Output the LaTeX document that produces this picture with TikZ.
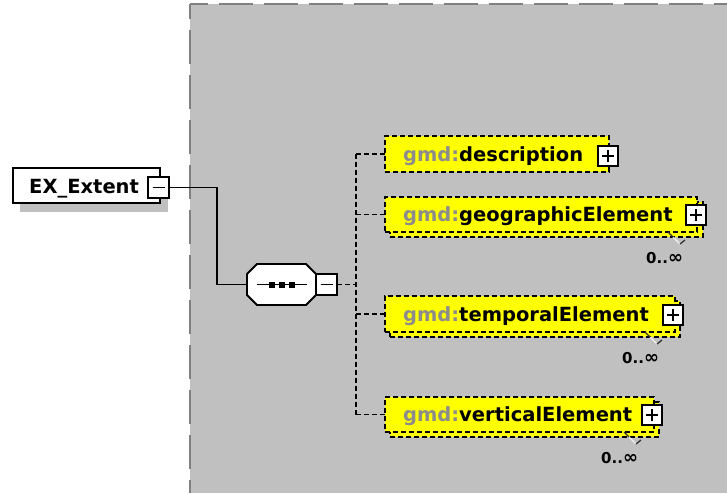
\documentclass[tikz,border=0pt]{standalone}
\usepackage{fontspec}
\setmainfont{DejaVu Sans}
\definecolor{bggray}{RGB}{192,192,192}
\definecolor{bgborder}{RGB}{128,128,128}
\definecolor{gmdgray}{RGB}{140,140,140}
\definecolor{elemyellow}{RGB}{255,255,0}
\begin{document}
\begin{tikzpicture}[x=1pt,y=-1pt,
  font=\fontsize{19.5}{23}\selectfont\bfseries,
  elembox/.style={draw=black, fill=elemyellow, line width=1.8pt, dash pattern=on 5pt off 3pt,
    anchor=north west, inner sep=0pt, outer sep=0pt},
  signbox/.style={draw=black, fill=white, line width=1.8pt, minimum size=20pt, inner sep=0pt,
    outer sep=0pt, anchor=north west},
  conn/.style={line width=1.8pt, dash pattern=on 5pt off 3pt},
  solidconn/.style={line width=1.8pt},
  signline/.style={line width=1.8pt},
  label/.style={anchor=base west, inner sep=0pt},
  mult/.style={anchor=base west, inner sep=0pt, font=\fontsize{15}{18}\selectfont\bfseries},
  tickdark/.style={line width=1.3pt, draw=black!80},
  ticklight/.style={line width=1.3pt, draw=white!90!gray}]
\useasboundingbox (0,0) rectangle (727,493);

% background group area
\fill[bggray] (190,4) rectangle (727,493);
\draw[bgborder, line width=1.8pt, dash pattern=on 34pt off 11pt, dash phase=16pt] (190,4) -- (727,4);
\draw[bgborder, line width=1.8pt, dash pattern=on 34pt off 11pt, dash phase=19pt] (190,4) -- (190,493);

% EX_Extent
\fill[bggray] (20,176) rectangle (168,212);
\node[draw=black, fill=white, line width=1.8pt, minimum width=147pt, minimum height=35pt,
  anchor=north west, inner sep=0pt, outer sep=0pt] (ext) at (13,168) {};
\node[label] (extT) at (29,193) {EX\_Extent};
\node[signbox, minimum size=21pt] (extM) at (148,177) {};
\draw[signline] ([xshift=-6pt]extM.center) -- ([xshift=6pt]extM.center);

% compositor (sequence)
\node[minimum width=69pt, minimum height=41pt, inner sep=0pt, outer sep=0pt] (comp) at (281.5,284.5) {};
\draw[line width=1.8pt, fill=white] (257,264) -- (306,264) -- (316,274) -- (316,295) -- (306,305)
  -- (257,305) -- (247,295) -- (247,274) -- cycle;
\draw[line width=1.8pt] (257,284.5) -- (307,284.5);
\fill (269,281.5) rectangle (275,287.5);
\fill (279,281.5) rectangle (285,287.5);
\fill (289,281.5) rectangle (295,287.5);
\node[signbox, minimum size=21pt] (compM) at (316,274) {};
\draw[signline] ([xshift=-6pt]compM.center) -- ([xshift=6pt]compM.center);

% connector EX_Extent -> compositor
\coordinate (j1) at (217,0);
\draw[solidconn] (extM.east) -- (extM.east -| j1) |- (comp.west);

% elements
\node[elembox, minimum width=224pt, minimum height=36pt] (e1) at (385,136) {};
\node[label] (e1T) at (403,161) {{\color{gmdgray}gmd:}description};
\node[signbox] (e1P) at (598,146) {};

\node[elembox, minimum width=313pt, minimum height=35pt] (e2b) at (390,202) {};
\node[elembox, minimum width=312pt, minimum height=35pt] (e2) at (385,197) {};
\node[label] (e2T) at (403,221.5) {{\color{gmdgray}gmd:}geographicElement};
\node[signbox] (e2P) at (686,205) {};

\node[elembox, minimum width=290pt, minimum height=36pt] (e3b) at (390,301) {};
\node[elembox, minimum width=290pt, minimum height=36pt] (e3) at (385,296) {};
\node[label] (e3T) at (403,321) {{\color{gmdgray}gmd:}temporalElement};
\node[signbox] (e3P) at (663,305) {};

\node[elembox, minimum width=269pt, minimum height=35pt] (e4b) at (390,402) {};
\node[elembox, minimum width=269pt, minimum height=35pt] (e4) at (385,397) {};
\node[label] (e4T) at (403,421.5) {{\color{gmdgray}gmd:}verticalElement};
\node[signbox] (e4P) at (642,405) {};

% plus signs
\foreach \p in {e1P,e2P,e3P,e4P}{
  \draw[signline] ([xshift=-6pt]\p.center) -- ([xshift=6pt]\p.center);
  \draw[signline] ([yshift=-6pt]\p.center) -- ([yshift=6pt]\p.center);
}

% multiplicity ticks and labels
\foreach \b/\R/\B in {e2b/703/237, e3b/680/337, e4b/659/437}{
  \draw[ticklight] (\R-30,\B) -- (\R-23,\B+7);
  \draw[tickdark] (\R-35,\B-5) -- (\R-30,\B);
  \draw[tickdark] (\R-23,\B+7) -- (\R-18,\B+3);
}
\node[mult] (m2) at (646,263) {0..{\fontsize{18}{18}\selectfont ∞}};
\node[mult] (m3) at (622,363) {0..{\fontsize{18}{18}\selectfont ∞}};
\node[mult] (m4) at (601,463) {0..{\fontsize{18}{18}\selectfont ∞}};

% dashed connectors compositor -> elements
\coordinate (bus) at (356,0);
\draw[conn] (compM.east) -- (compM.east -| bus);
\draw[conn] (e1.west -| bus) -- (e4.west -| bus);
\draw[conn] (e1.west -| bus) -- (e1.west);
\draw[conn] (e2.west -| bus) -- (e2.west);
\draw[conn] (e3.west -| bus) -- (e3.west);
\draw[conn] (e4.west -| bus) -- (e4.west);
\end{tikzpicture}
\end{document}
